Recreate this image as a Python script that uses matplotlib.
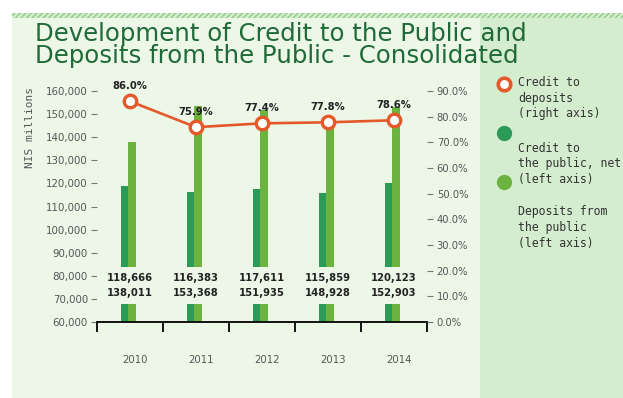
import matplotlib
matplotlib.use("Agg")
import matplotlib.pyplot as plt
import matplotlib.transforms as mtransforms
from matplotlib.patches import Rectangle
from matplotlib.lines import Line2D
import numpy as np

# ---- data -------------------------------------------------------------
years = ["2010", "2011", "2012", "2013", "2014"]
credit_public = [118666, 116383, 117611, 115859, 120123]    # NIS millions
deposits_public = [138011, 153368, 151935, 148928, 152903]  # NIS millions
credit_to_deposits = [86.0, 75.9, 77.4, 77.8, 78.6]          # percent

left_ticks = list(range(60000, 160001, 10000))
right_ticks = list(range(0, 91, 10))

title_lines = ["Development of Credit to the Public and",
               "Deposits from the Public - Consolidated"]

# ---- style ------------------------------------------------------------
W, H = 623, 398
LIGHT = "#ecf7e8"
PANEL = "#d5edcf"
DARK_GREEN = "#2a9a56"
LIGHT_GREEN = "#6db33f"
ORANGE = "#e5582a"
TITLE_GREEN = "#1f6a38"
GREY = "#555555"


def fx(px):
    return px / W


def fy(py):
    return 1 - py / H


fig = plt.figure(figsize=(W / 100, H / 100), dpi=100)
fig.patch.set_facecolor("white")

# background panels
fig.patches.append(Rectangle((fx(12), 0), fx(480) - fx(12), fy(13),
                             transform=fig.transFigure, facecolor=LIGHT,
                             edgecolor="none", zorder=-10))
fig.patches.append(Rectangle((fx(480), 0), 1 - fx(480), fy(13),
                             transform=fig.transFigure, facecolor=PANEL,
                             edgecolor="none", zorder=-10))
plt.rcParams["hatch.linewidth"] = 1.0
fig.patches.append(Rectangle((fx(12), fy(18)), 1 - fx(12), 5 / H,
                             transform=fig.transFigure, facecolor=PANEL,
                             edgecolor="#8fca87", hatch="//////", linewidth=0,
                             zorder=-5))

# title
for i, line in enumerate(title_lines):
    fig.text(fx(35), fy(41 + 22 * i), line, ha="left", va="baseline",
             fontsize=17.6, color=TITLE_GREEN, family="DejaVu Sans")

# ---- axes -------------------------------------------------------------
ax = fig.add_axes([fx(97), fy(322), fx(427) - fx(97), (322 - 91) / H])
ax.set_facecolor("none")
ax.set_xlim(0, 5)
ax.set_ylim(60000, 160000)

x = np.arange(len(years)) + 0.5
bw = 7.6 / 66
shift = -0.025
ax.bar(x - bw / 2 + shift, credit_public, width=bw, color=DARK_GREEN,
       zorder=2, linewidth=0)
ax.bar(x + bw / 2 + shift, deposits_public, width=bw, color=LIGHT_GREEN,
       zorder=2, linewidth=0)

# break in the bars where the values are written
ax.axhspan(67800, 83800, color=LIGHT, zorder=2.5, linewidth=0)
for xi, c, d in zip(x, credit_public, deposits_public):
    ax.text(xi, 79000, f"{c:,}", ha="center", va="center", fontsize=7.2,
            fontweight="bold", color="#222222", zorder=4)
    ax.text(xi, 72600, f"{d:,}", ha="center", va="center", fontsize=7.2,
            fontweight="bold", color="#222222", zorder=4)

for side in ("top", "left", "right"):
    ax.spines[side].set_visible(False)
ax.spines["bottom"].set_linewidth(1.4)
ax.spines["bottom"].set_color("#111111")

ax.set_xticks(np.arange(0, 6))
ax.set_xticklabels([])
ax.tick_params(axis="x", which="major", direction="out", length=7,
               width=1.4, color="#111111")

# year labels
trans = mtransforms.blended_transform_factory(ax.transData, ax.transAxes)
for xi, yr in zip(x, years):
    ax.text(xi + 0.07, -38 / 231, yr, transform=trans, ha="center",
            va="center", fontsize=7.3, color=GREY)

ax.set_yticks(left_ticks)
ax.set_yticklabels([f"{v:,}" for v in left_ticks])
ax.tick_params(axis="y", direction="out", length=4, width=0.8,
               color="#777777", pad=2.5, labelsize=7.4, labelcolor=GREY)

ax2 = ax.twinx()
ax2.set_ylim(0, 90)
for side in ("top", "left", "right", "bottom"):
    ax2.spines[side].set_visible(False)
ax2.set_yticks(right_ticks)
ax2.set_yticklabels([f"{v:.1f}%" for v in right_ticks])
ax2.tick_params(axis="y", direction="out", length=4, width=0.8,
                color="#777777", pad=3, labelsize=7.2, labelcolor=GREY)

ax2.plot(x, credit_to_deposits, color=ORANGE, lw=1.9, marker="o", ms=9,
         mfc="white", mec=ORANGE, mew=2.4, clip_on=False, zorder=5)
for xi, v in zip(x, credit_to_deposits):
    ax2.annotate(f"{v:.1f}%", (xi, v), xytext=(0, 11),
                 textcoords="offset points", ha="center", va="center",
                 fontsize=7.2, fontweight="bold", color="#222222",
                 annotation_clip=False, zorder=6)

fig.text(fx(30), fy(128), "NIS millions", rotation=90, ha="center",
         va="center", fontsize=8, color=GREY, family="DejaVu Sans Mono")

# ---- legend -----------------------------------------------------------
MONO = dict(ha="left", va="center", fontsize=8.3, color="#333333",
            family="DejaVu Sans Mono")
fig.add_artist(Line2D([fx(504)], [fy(84)], transform=fig.transFigure,
                      marker="o", ms=9, mfc="white", mec=ORANGE, mew=2.6,
                      linestyle="none"))
fig.add_artist(Line2D([fx(504)], [fy(133)], transform=fig.transFigure,
                      marker="o", ms=10, color=DARK_GREEN, linestyle="none"))
fig.add_artist(Line2D([fx(504)], [fy(182)], transform=fig.transFigure,
                      marker="o", ms=10, color=LIGHT_GREEN, linestyle="none"))

legend_blocks = [
    (83, ["Credit to", "deposits", "(right axis)"]),
    (148, ["Credit to", "the public, net", "(left axis)"]),
    (212, ["Deposits from", "the public", "(left axis)"]),
]
for y0, lines in legend_blocks:
    for j, t in enumerate(lines):
        fig.text(fx(518), fy(y0 + 15.5 * j), t, **MONO)

fig.savefig("out.png", dpi=100)
